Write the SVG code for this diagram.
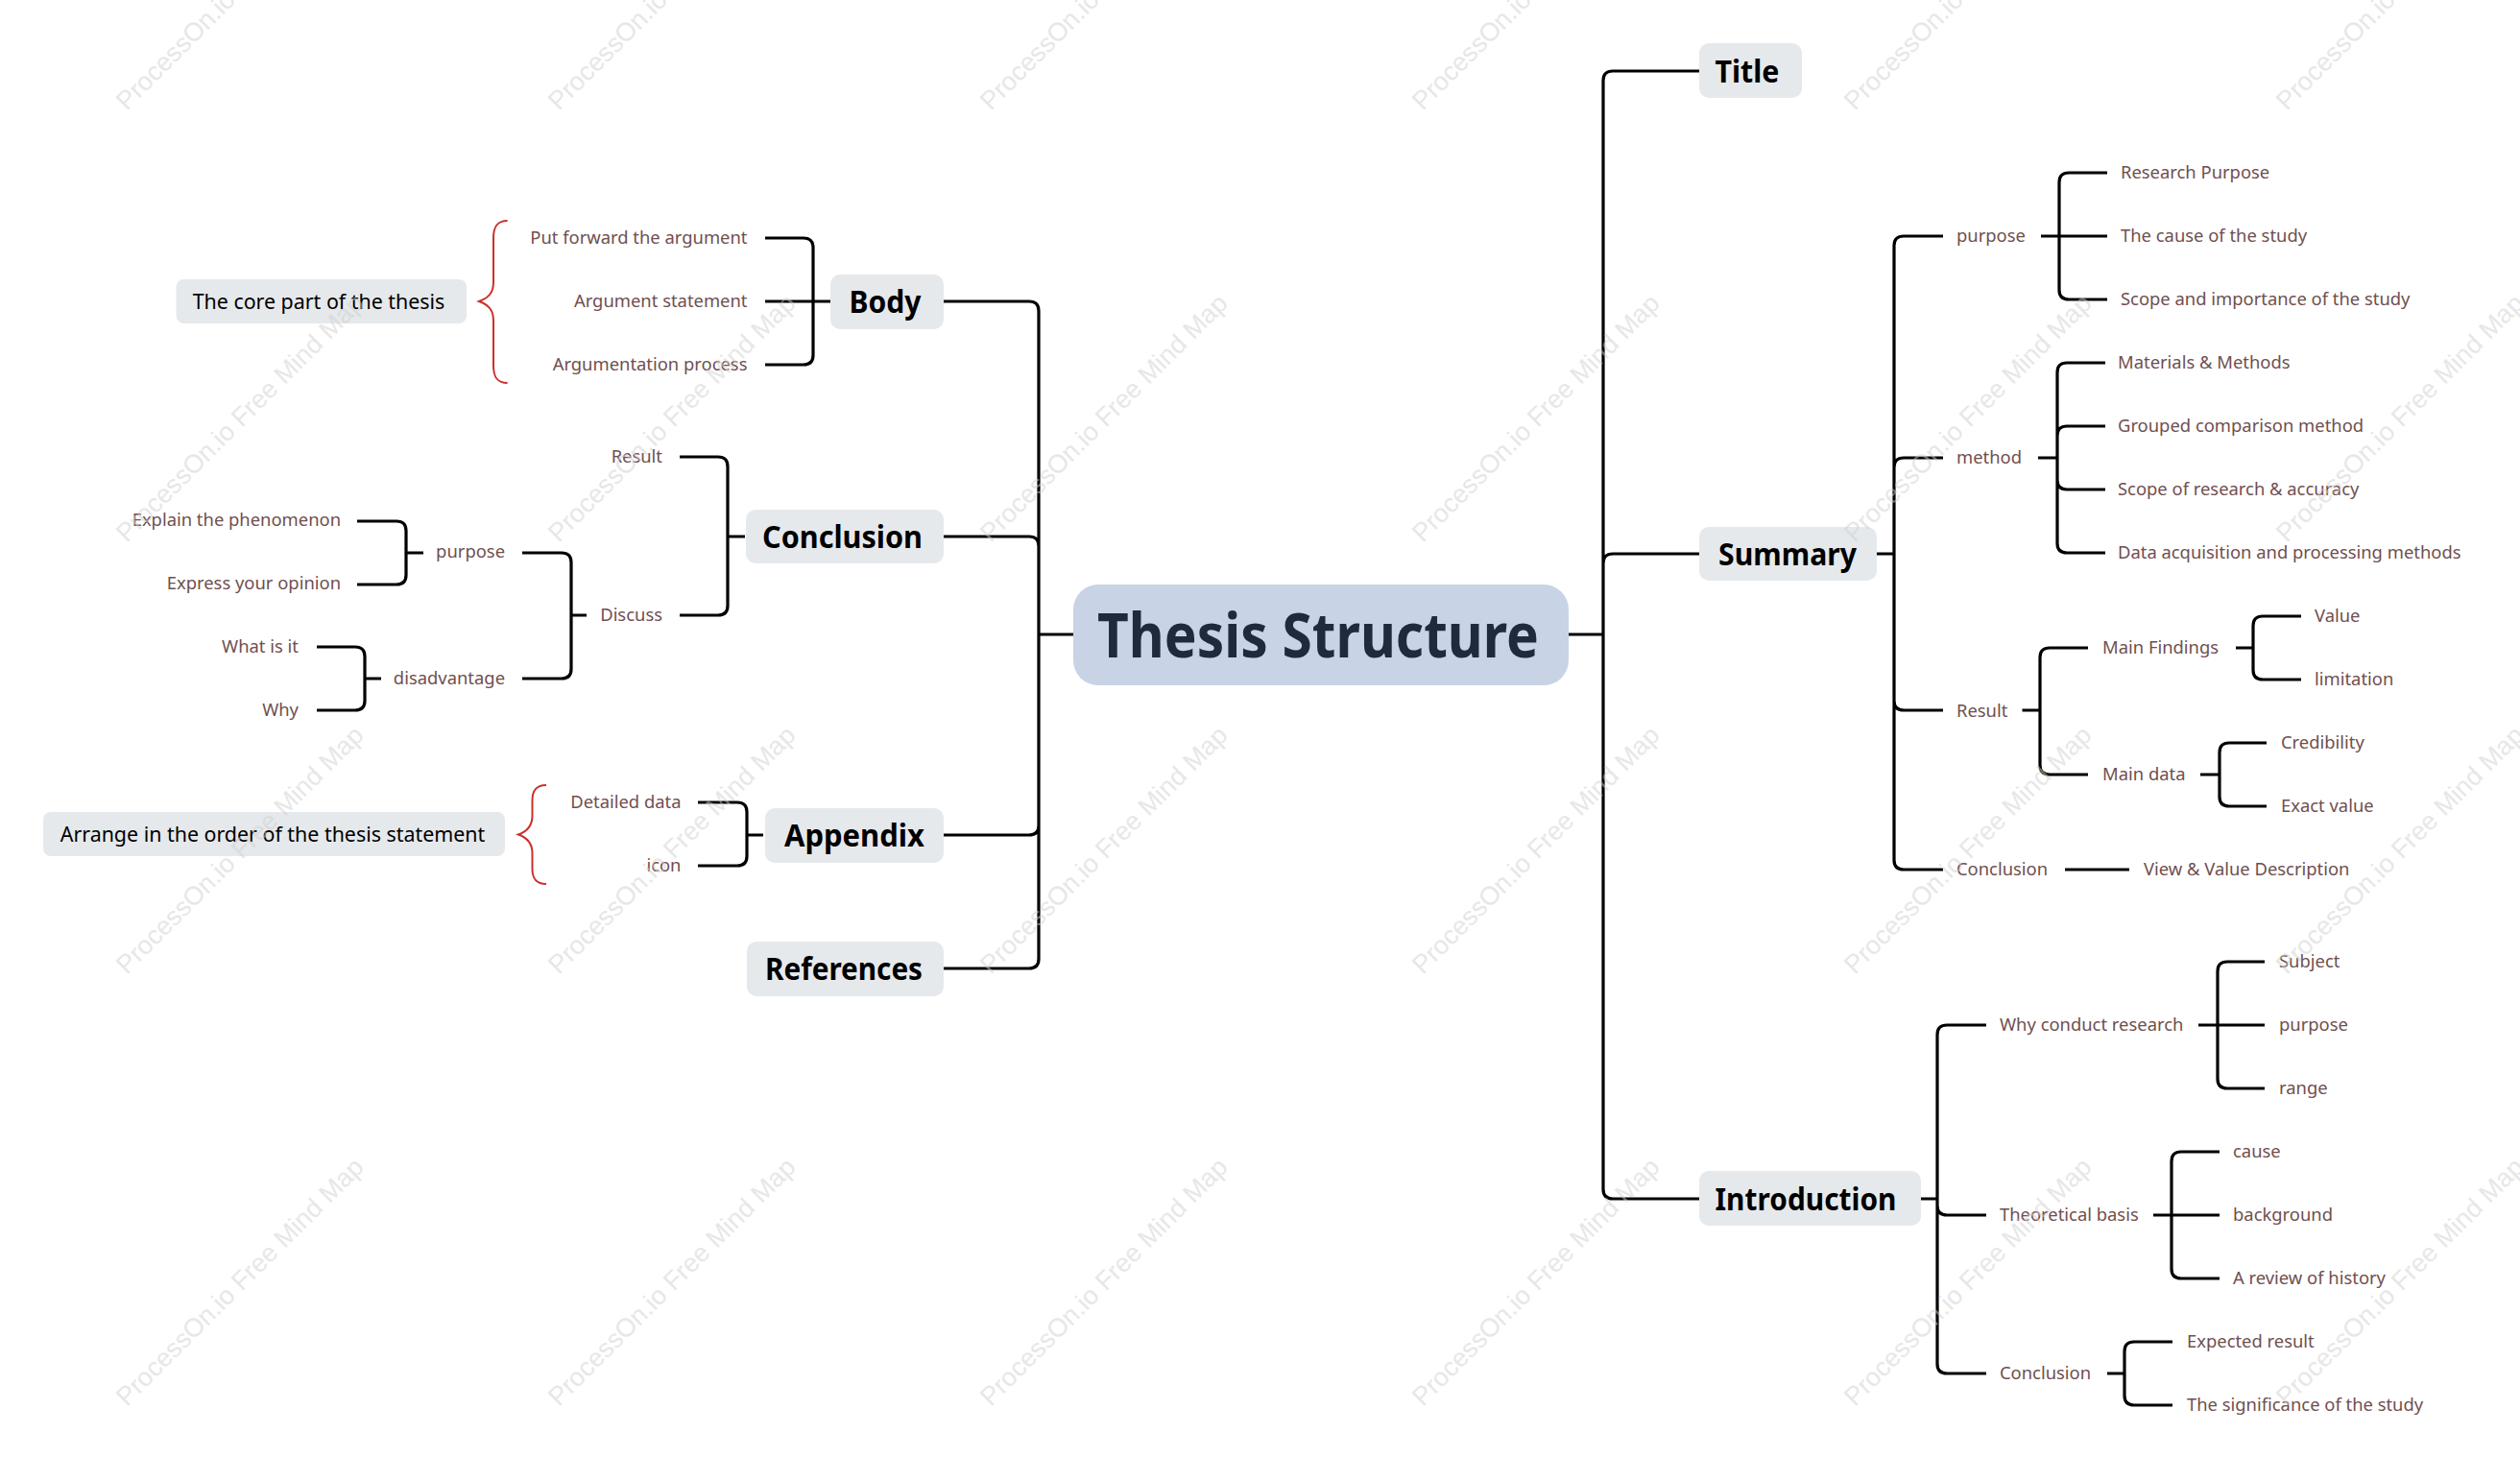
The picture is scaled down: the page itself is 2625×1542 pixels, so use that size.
<svg xmlns="http://www.w3.org/2000/svg" width="2625" height="1542" viewBox="0 0 2625 1542">
<style>
text{font-family:"Noto Sans","Open Sans","Liberation Sans",sans-serif;dominant-baseline:central}
.c{fill:none;stroke:#000;stroke-width:3.2}
.b{fill:none;stroke:#c9302c;stroke-width:2}
.box{fill:#e6e9ec}
.h{font-size:32px;font-weight:700;fill:#000;text-anchor:middle;transform:translateY(-1px)}
.t{font-size:18.400px;fill:#704f4f;transform:translateY(-1.200px)}
.e{text-anchor:end}
.n{font-size:21.400px;fill:#000;text-anchor:middle;transform:translateY(-1px)}
.wm{font-family:"Liberation Sans",sans-serif;font-size:27px;fill:#d0d0d0;opacity:.5;dominant-baseline:auto}
</style>
<rect width="2625" height="1542" fill="#fff"/>
<g id="connectors">
<path class="c" d="M1634 661H1670M1118 661H1082"/>
<path class="c" d="M1670 661V84Q1670 74 1680 74H1770M1670 661V587Q1670 577 1680 577H1770M1670 661V1239Q1670 1249 1680 1249H1770"/>
<path class="c" d="M1082 661V324Q1082 314 1072 314H983M1082 661V569Q1082 559 1072 559H983M1082 661V860Q1082 870 1072 870H983M1082 661V999Q1082 1009 1072 1009H983"/>
<path class="c" d="M1955 577H1973M1973 577V256Q1973 246 1983 246H2024M1973 577V487Q1973 477 1983 477H2024M1973 577V730Q1973 740 1983 740H2024M1973 577V896Q1973 906 1983 906H2024"/>
<path class="c" d="M2126 246H2195M2145 246V190Q2145 180 2155 180H2195M2145 246V302Q2145 312 2155 312H2195"/>
<path class="c" d="M2123 477H2143M2143 477V388Q2143 378 2153 378H2193M2143 477V454Q2143 444 2153 444H2193M2143 477V500Q2143 510 2153 510H2193M2143 477V566Q2143 576 2153 576H2193"/>
<path class="c" d="M2106.500 740H2125M2125 740V685Q2125 675 2135 675H2175M2125 740V797Q2125 807 2135 807H2175"/>
<path class="c" d="M2329 675H2347M2347 675V652Q2347 642 2357 642H2397M2347 675V698Q2347 708 2357 708H2397"/>
<path class="c" d="M2292 807H2312M2312 807V784Q2312 774 2322 774H2361M2312 807V830Q2312 840 2322 840H2361"/>
<path class="c" d="M2151 906H2218"/>
<path class="c" d="M2001 1249H2018M2018 1249V1256Q2018 1266 2028 1266H2069M2018 1249V1078Q2018 1068 2028 1068H2069M2018 1249V1421Q2018 1431 2028 1431H2069"/>
<path class="c" d="M2290 1068H2359M2310 1068V1012Q2310 1002 2320 1002H2359M2310 1068V1124Q2310 1134 2320 1134H2359"/>
<path class="c" d="M2243 1266H2312M2262 1266V1210Q2262 1200 2272 1200H2312M2262 1266V1322Q2262 1332 2272 1332H2312"/>
<path class="c" d="M2195 1431H2213M2213 1431V1408Q2213 1398 2223 1398H2263M2213 1431V1454Q2213 1464 2223 1464H2263"/>
<path class="c" d="M865 314H797M847 314V258Q847 248 837 248H797M847 314V370Q847 380 837 380H797"/>
<path class="c" d="M776 559H758M758 559V486Q758 476 748 476H708M758 559V631Q758 641 748 641H708"/>
<path class="c" d="M611 641H595M595 641V586Q595 576 585 576H544M595 641V697Q595 707 585 707H544"/>
<path class="c" d="M441 576H423M423 576V553Q423 543 413 543H372M423 576V599Q423 609 413 609H372"/>
<path class="c" d="M397 707H380M380 707V684Q380 674 370 674H330M380 707V730Q380 740 370 740H330"/>
<path class="c" d="M795 870H778M778 870V846Q778 836 768 836H727M778 870V892Q778 902 768 902H727"/>
<path class="b" d="M528.600 230C518 230 514 236 514 248V294C514 304 510 310 499 314C510 318 514 324 514 334V381C514 393 518 399 528.600 399"/>
<path class="b" d="M569 818C558 818 554.500 824 554.500 834V850C554.500 860 550 866 540 869.500C550 873 554.500 879 554.500 889V905C554.500 915 558 921 569 921"/>
</g>
<g id="root"><rect x="1118" y="609" width="516" height="105" rx="26" fill="#c8d3e5"/><text x="1373" y="660" font-size="64" font-weight="700" fill="#1f2a3d" text-anchor="middle" textLength="460" lengthAdjust="spacingAndGlyphs">Thesis Structure</text></g>
<g id="title"><rect class="box" x="1770" y="45" width="107" height="57" rx="10"/><text class="h" x="1820" y="74" textLength="67" lengthAdjust="spacingAndGlyphs">Title</text></g>
<g id="summary"><rect class="box" x="1770" y="549" width="185" height="56" rx="10"/><text class="h" x="1862" y="577" textLength="144" lengthAdjust="spacingAndGlyphs">Summary</text></g>
<g id="introduction"><rect class="box" x="1770" y="1220" width="231" height="57" rx="10"/><text class="h" x="1881" y="1249" textLength="189" lengthAdjust="spacingAndGlyphs">Introduction</text></g>
<g id="body"><rect class="box" x="865" y="286" width="118" height="57" rx="10"/><text class="h" x="922" y="314" textLength="75" lengthAdjust="spacingAndGlyphs">Body</text></g>
<g id="conclusion"><rect class="box" x="777" y="531" width="206" height="56" rx="10"/><text class="h" x="877.500" y="559" textLength="167" lengthAdjust="spacingAndGlyphs">Conclusion</text></g>
<g id="appendix"><rect class="box" x="797" y="842" width="186" height="57" rx="10"/><text class="h" x="890" y="870" textLength="146" lengthAdjust="spacingAndGlyphs">Appendix</text></g>
<g id="references"><rect class="box" x="778" y="981" width="205" height="57" rx="10"/><text class="h" x="879" y="1009" textLength="164" lengthAdjust="spacingAndGlyphs">References</text></g>
<g id="note-core"><rect class="box" x="183.500" y="291" width="302.500" height="46" rx="8"/><text class="n" x="332" y="314">The core part of the thesis</text></g>
<g id="note-arrange"><rect class="box" x="45" y="846" width="481" height="46" rx="8"/><text class="n" x="284" y="869">Arrange in the order of the thesis statement</text></g>
<g id="summary-items">
<text class="t" x="2038" y="246">purpose</text>
<text class="t" x="2209" y="180">Research Purpose</text>
<text class="t" x="2209" y="246">The cause of the study</text>
<text class="t" x="2209" y="312">Scope and importance of the study</text>
<text class="t" x="2038" y="477">method</text>
<text class="t" x="2206" y="378">Materials &amp; Methods</text>
<text class="t" x="2206" y="444">Grouped comparison method</text>
<text class="t" x="2206" y="510">Scope of research &amp; accuracy</text>
<text class="t" x="2206" y="576">Data acquisition and processing methods</text>
<text class="t" x="2038" y="740.500">Result</text>
<text class="t" x="2190" y="675">Main Findings</text>
<text class="t" x="2411" y="642">Value</text>
<text class="t" x="2411" y="708">limitation</text>
<text class="t" x="2190" y="807">Main data</text>
<text class="t" x="2376" y="774">Credibility</text>
<text class="t" x="2376" y="840">Exact value</text>
<text class="t" x="2038" y="906">Conclusion</text>
<text class="t" x="2233" y="906">View &amp; Value Description</text>
</g>
<g id="introduction-items">
<text class="t" x="2083" y="1068">Why conduct research</text>
<text class="t" x="2374" y="1002">Subject</text>
<text class="t" x="2374" y="1068">purpose</text>
<text class="t" x="2374" y="1134">range</text>
<text class="t" x="2083" y="1266">Theoretical basis</text>
<text class="t" x="2326" y="1200">cause</text>
<text class="t" x="2326" y="1266">background</text>
<text class="t" x="2326" y="1332">A review of history</text>
<text class="t" x="2083" y="1431">Conclusion</text>
<text class="t" x="2278" y="1398">Expected result</text>
<text class="t" x="2278" y="1464">The significance of the study</text>
</g>
<g id="left-items">
<text class="t e" x="778.500" y="248">Put forward the argument</text>
<text class="t e" x="778.500" y="314">Argument statement</text>
<text class="t e" x="778.500" y="380">Argumentation process</text>
<text class="t e" x="690" y="476">Result</text>
<text class="t e" x="690" y="641">Discuss</text>
<text class="t e" x="526" y="575">purpose</text>
<text class="t e" x="355" y="542">Explain the phenomenon</text>
<text class="t e" x="355" y="608">Express your opinion</text>
<text class="t e" x="526" y="707">disadvantage</text>
<text class="t e" x="311" y="673.500">What is it</text>
<text class="t e" x="311" y="740">Why</text>
<text class="t e" x="709.500" y="836">Detailed data</text>
<text class="t e" x="709.500" y="902">icon</text>
</g>
<g id="watermarks">
<text class="wm" transform="translate(132 116) rotate(-45)">ProcessOn.io Free Mind Map</text>
<text class="wm" transform="translate(582 116) rotate(-45)">ProcessOn.io Free Mind Map</text>
<text class="wm" transform="translate(1032 116) rotate(-45)">ProcessOn.io Free Mind Map</text>
<text class="wm" transform="translate(1482 116) rotate(-45)">ProcessOn.io Free Mind Map</text>
<text class="wm" transform="translate(1932 116) rotate(-45)">ProcessOn.io Free Mind Map</text>
<text class="wm" transform="translate(2382 116) rotate(-45)">ProcessOn.io Free Mind Map</text>
<text class="wm" transform="translate(132 566) rotate(-45)">ProcessOn.io Free Mind Map</text>
<text class="wm" transform="translate(582 566) rotate(-45)">ProcessOn.io Free Mind Map</text>
<text class="wm" transform="translate(1032 566) rotate(-45)">ProcessOn.io Free Mind Map</text>
<text class="wm" transform="translate(1482 566) rotate(-45)">ProcessOn.io Free Mind Map</text>
<text class="wm" transform="translate(1932 566) rotate(-45)">ProcessOn.io Free Mind Map</text>
<text class="wm" transform="translate(2382 566) rotate(-45)">ProcessOn.io Free Mind Map</text>
<text class="wm" transform="translate(132 1016) rotate(-45)">ProcessOn.io Free Mind Map</text>
<text class="wm" transform="translate(582 1016) rotate(-45)">ProcessOn.io Free Mind Map</text>
<text class="wm" transform="translate(1032 1016) rotate(-45)">ProcessOn.io Free Mind Map</text>
<text class="wm" transform="translate(1482 1016) rotate(-45)">ProcessOn.io Free Mind Map</text>
<text class="wm" transform="translate(1932 1016) rotate(-45)">ProcessOn.io Free Mind Map</text>
<text class="wm" transform="translate(2382 1016) rotate(-45)">ProcessOn.io Free Mind Map</text>
<text class="wm" transform="translate(132 1466) rotate(-45)">ProcessOn.io Free Mind Map</text>
<text class="wm" transform="translate(582 1466) rotate(-45)">ProcessOn.io Free Mind Map</text>
<text class="wm" transform="translate(1032 1466) rotate(-45)">ProcessOn.io Free Mind Map</text>
<text class="wm" transform="translate(1482 1466) rotate(-45)">ProcessOn.io Free Mind Map</text>
<text class="wm" transform="translate(1932 1466) rotate(-45)">ProcessOn.io Free Mind Map</text>
<text class="wm" transform="translate(2382 1466) rotate(-45)">ProcessOn.io Free Mind Map</text>
</g>
</svg>
